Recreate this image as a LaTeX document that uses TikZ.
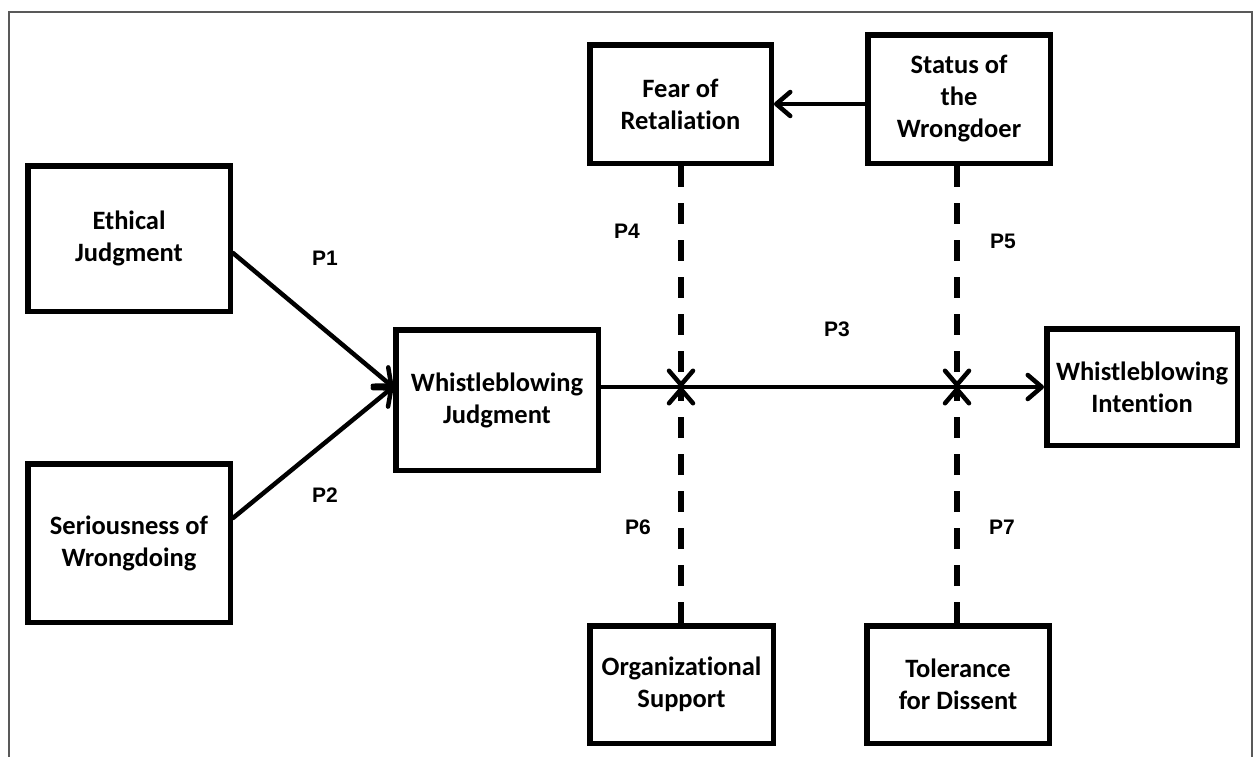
\documentclass[tikz,border=0pt]{standalone}
\usepackage{fontspec}
\usetikzlibrary{arrows.meta}
\newfontfamily\boxfontfam{Carlito}[Ligatures={NoCommon}]
\newfontfamily\labfontfam{Liberation Sans}
\newcommand{\boxfont}{\boxfontfam\bfseries\fontsize{26.5}{32}\selectfont}
\newcommand{\labfont}{\labfontfam\bfseries\fontsize{21}{24}\selectfont}
\tikzset{
  varbox/.style={draw, line width=5.5pt, inner sep=0pt, align=center, font=\boxfont, fill=white},
  plabel/.style={font=\labfont, inner sep=0pt},
  barb/.style={-{Straight Barb[length=14pt,width=24pt,line width=4.5pt,round]}},
  solidarrow/.style={barb, line width=4.5pt, line cap=round},
  modline/.style={barb, line width=6pt, dash pattern=on 21pt off 16pt},
  frame/.style={draw=black!65, line width=1.5pt}
}
\begin{document}
\begin{tikzpicture}[x=1pt,y=-1pt]
\useasboundingbox (0,0) rectangle (1253,756);
% outer frame
\coordinate (f1) at (9,757);
\coordinate (f2) at (9,12);
\coordinate (f3) at (1252,12);
\coordinate (f4) at (1252,757);
\draw[frame] (f1) -- (f2) -- (f3) -- (f4);

% boxes
\node[varbox, minimum width=202.5pt, minimum height=145.5pt] (eth) at (129,238.5) {Ethical\\Judgment};
\node[varbox, minimum width=202.5pt, minimum height=158.5pt] (ser) at (129,543) {Seriousness of\\Wrongdoing};
\node[varbox, minimum width=202.5pt, minimum height=140.5pt] (wj) at (497,400) {Whistleblowing\\Judgment};
\node[varbox, minimum width=181.5pt, minimum height=118.5pt] (fear) at (680.5,104) {Fear of\\Retaliation};
\node[varbox, minimum width=182.5pt, minimum height=128.5pt] (stat) at (959,99) {Status of\\the\\Wrongdoer};
\node[varbox, minimum width=190.5pt, minimum height=116.5pt] (wi) at (1142,387) {Whistleblowing\\Intention};
\node[varbox, minimum width=183.5pt, minimum height=117.5pt] (org) at (681.5,684.5) {Organizational\\Support};
\node[varbox, minimum width=182.5pt, minimum height=117.5pt] (tol) at (958,684.5) {Tolerance\\for Dissent};

% helper coordinates
\coordinate (c1) at (681,387);
\coordinate (c2) at (957,387);
\coordinate (h1) at (0,253);
\coordinate (h2) at (0,518);

% main arrows
\draw[solidarrow] (eth.east |- h1) -- (wj.west |- c1);
\draw[solidarrow] (ser.east |- h2) -- (wj.west |- c1);
\draw[solidarrow] (wj.east |- c1) -- (wi.west |- c1);
\draw[solidarrow] (stat.west |- fear.east) -- (fear.east);

% moderating dashed arrows
\draw[modline] (c1 |- fear.south) -- (c1);
\draw[modline] (c1 |- org.north) -- (c1);
\draw[modline] (c2 |- stat.south) -- (c2);
\draw[modline] (c2 |- tol.north) -- (c2);

% labels
\node[plabel] (p1) at (325,258) {P1};
\node[plabel] (p2) at (325,495) {P2};
\node[plabel] (p3) at (837,329) {P3};
\node[plabel] (p4) at (627,231) {P4};
\node[plabel] (p5) at (1003,241) {P5};
\node[plabel] (p6) at (638,527) {P6};
\node[plabel] (p7) at (1002,527) {P7};
\end{tikzpicture}
\end{document}
